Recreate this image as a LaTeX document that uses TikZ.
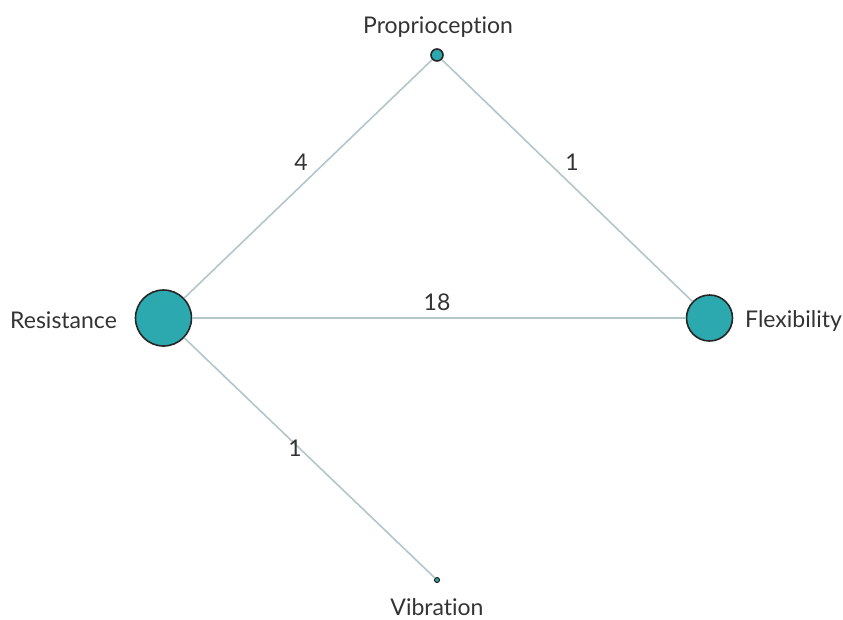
\documentclass[tikz,border=0pt]{standalone}
\usepackage{fontspec}
\setmainfont{Lato}[Ligatures=NoCommon]
\usetikzlibrary{positioning}
\definecolor{nodefill}{HTML}{2CA9AF}
\definecolor{edgecol}{HTML}{B3C6C9}
\definecolor{textcol}{HTML}{333333}

\begin{document}
\begin{tikzpicture}[x=1pt,y=-1pt,
  every node/.style={text=textcol,inner sep=0pt,font=\fontsize{23}{27}\selectfont},
  vert/.style={circle,draw=black!85,line width=1.6pt,fill=nodefill,inner sep=0pt},
  edge/.style={draw=edgecol,line width=1.6pt}]
  \useasboundingbox (0,0) rectangle (843,619);
  % vertices
  \node[vert,minimum size=56pt] (resist) at (163.5,318) {};
  \node[vert,minimum size=46pt] (flex) at (709.5,318) {};
  \node[vert,minimum size=12pt] (prop) at (437,55) {};
  \node[vert,minimum size=5pt,line width=1.1pt] (vib) at (437,580) {};
  % edges
  \draw[edge] (resist) -- (flex);
  \draw[edge] (resist) -- (prop);
  \draw[edge] (prop) -- (flex);
  \draw[edge] (resist) -- (vib);
  % weights
  \node[anchor=base] (w1) at (301,170) {4};
  \node[anchor=base] (w2) at (572,170) {1};
  \node[anchor=base] (w3) at (437,310) {18};
  \node[anchor=base] (w4) at (295,456.5) {1};
  % labels
  \node[anchor=base west] (lres) at (10,328.3) {Resistance};
  \node[anchor=base west] (lflex) at (745,327.7) {Flexibility};
  \node[anchor=base] (lprop) at (438,33.3) {Proprioception};
  \node[anchor=base] (lvib) at (437,615.5) {Vibration};
\end{tikzpicture}
\end{document}
